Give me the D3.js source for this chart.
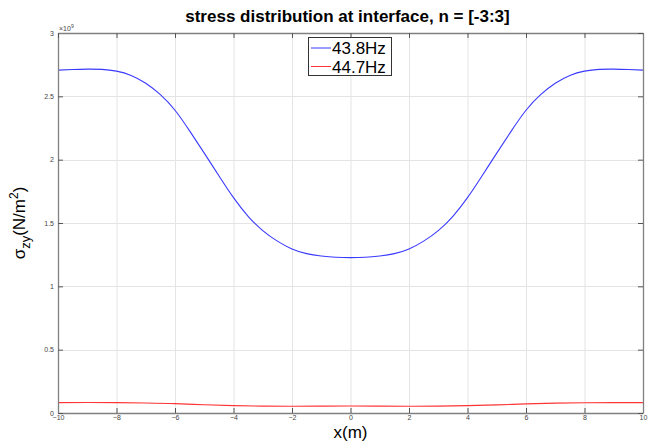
<!DOCTYPE html>
<html><head><meta charset="utf-8">
<script src="https://cdn.jsdelivr.net/npm/d3@7"></script>
<style>
html,body{margin:0;padding:0;background:#fff;}
text{font-family:"Liberation Sans",Arial,sans-serif;}
</style></head>
<body><svg id="c" width="656" height="442"></svg>
<script>
// x positions (m)
const xBlue = [-10,-9.5,-9,-8.5,-8,-7.5,-7,-6.5,-6,-5.5,-5,-4.5,-4,-3.5,-3,-2.5,-2,-1.5,-1,-0.5,0,
               0.5,1,1.5,2,2.5,3,3.5,4,4.5,5,5.5,6,6.5,7,7.5,8,8.5,9,9.5,10];
// 43.8Hz stress (x 1e9 N/m^2)
const blueVals = [2.707,2.712,2.715,2.713,2.699,2.665,2.603,2.513,2.390,2.227,2.052,1.873,1.700,1.553,1.440,1.357,1.295,1.258,1.240,1.230,1.227,
                  1.230,1.240,1.258,1.295,1.357,1.440,1.553,1.700,1.873,2.052,2.227,2.390,2.513,2.603,2.665,2.699,2.713,2.715,2.712,2.707];
const xRed = [-10,-9,-8,-7,-6,-5,-4,-3,-2,-1,0,1,2,3,4,5,6,7,8,9,10];
// 44.7Hz stress (x 1e9 N/m^2)
const redVals = [0.082,0.083,0.082,0.079,0.074,0.065,0.058,0.054,0.053,0.054,0.055,0.054,0.053,0.054,0.058,0.064,0.072,0.078,0.081,0.082,0.082];
const seriesNames = ["43.8Hz","44.7Hz"];
const seriesColors = ["#3a3aff","#ff3535"];
const xTicks = [-10,-8,-6,-4,-2,0,2,4,6,8,10];
const yTicks = [0,0.5,1,1.5,2,2.5,3];
const titleText = "stress distribution at interface, n = [-3:3]";

const svg = d3.select("#c");
const L=58, R=643, T=33, B=413;
const x = d3.scaleLinear().domain([-10,10]).range([L,R]);
const y = d3.scaleLinear().domain([0,3]).range([B,T]);

// grid
const g = svg.append("g");
g.selectAll(".vg").data(xTicks).enter().append("line")
  .attr("x1",d=>x(d)+0.5).attr("x2",d=>x(d)+0.5).attr("y1",T).attr("y2",B)
  .attr("stroke","#e4e4e4").attr("stroke-width",1);
g.selectAll(".hg").data(yTicks).enter().append("line")
  .attr("y1",d=>Math.round(y(d))+0.5).attr("y2",d=>Math.round(y(d))+0.5).attr("x1",L).attr("x2",R)
  .attr("stroke","#e4e4e4").attr("stroke-width",1);

// curves
const line = d3.line().curve(d3.curveNatural);
svg.append("path").datum(xBlue.map((v,i)=>[x(v),y(blueVals[i])]))
  .attr("d",line).attr("fill","none").attr("stroke",seriesColors[0]).attr("stroke-width",1.1);
svg.append("path").datum(xRed.map((v,i)=>[x(v),y(redVals[i])]))
  .attr("d",line).attr("fill","none").attr("stroke",seriesColors[1]).attr("stroke-width",1.1);

// axes box with inward ticks
const axCol="#808080";
const axB = d3.axisBottom(x).tickValues(xTicks).tickSizeInner(-5).tickSizeOuter(0).tickFormat(d3.format("d"));
const gb = svg.append("g").attr("transform",`translate(0,${B})`).call(axB);
const axL = d3.axisLeft(y).tickValues(yTicks).tickSizeInner(-5).tickSizeOuter(0).tickFormat(d=>d===0?"0":String(d));
const gl = svg.append("g").attr("transform",`translate(${L},0)`).call(axL);
const axT = d3.axisTop(x).tickValues(xTicks).tickSizeInner(-5).tickSizeOuter(0).tickFormat("");
const gt = svg.append("g").attr("transform",`translate(0,${T})`).call(axT);
const axR = d3.axisRight(y).tickValues(yTicks).tickSizeInner(-5).tickSizeOuter(0).tickFormat("");
const gr = svg.append("g").attr("transform",`translate(${R},0)`).call(axR);
[gb,gl,gt,gr].forEach(a=>{
  a.select(".domain").attr("stroke",axCol).attr("stroke-width",1.3);
  a.selectAll(".tick line").attr("stroke","#555").attr("stroke-width",1);
  a.selectAll(".tick text").attr("fill","#444").style("font-size","7px").style("font-family","Liberation Sans, Arial, sans-serif");
});
gb.selectAll(".tick text").attr("y",2).attr("dy","0.71em");
gl.selectAll(".tick text").attr("x",-4);

// exponent
const ex = svg.append("text").attr("x",L+1).attr("y",T-2).attr("fill","#444").style("font-size","7px");
ex.append("tspan").text("×10");
ex.append("tspan").attr("dy",-3).style("font-size","5px").text("9");

// title
svg.append("text").attr("x",(L+R)/2-3).attr("y",22).attr("text-anchor","middle")
  .style("font-size","17px").style("font-weight","bold").attr("fill","#000").text(titleText);

// x label
svg.append("text").attr("x",(L+R)/2).attr("y",438).attr("text-anchor","middle")
  .style("font-size","17px").attr("fill","#000").text("x(m)");

// y label
const yl = svg.append("text").attr("transform","translate(25,223) rotate(-90)").attr("text-anchor","middle")
  .style("font-size","17px").attr("fill","#000");
yl.append("tspan").text("σ");
yl.append("tspan").attr("dy",5).style("font-size","13px").text("zy");
yl.append("tspan").attr("dy",-5).text("(N/m");
yl.append("tspan").attr("dy",-7).style("font-size","12px").text("2");
yl.append("tspan").attr("dy",7).text(")");

// legend
const lg = svg.append("g");
lg.append("rect").attr("x",308.5).attr("y",37.5).attr("width",83).attr("height",38)
  .attr("fill","#fff").attr("stroke","#333").attr("stroke-width",1);
seriesNames.forEach((n,i)=>{
  const yy = 48 + i*18.5;
  lg.append("line").attr("x1",311).attr("x2",331).attr("y1",yy).attr("y2",yy)
    .attr("stroke",seriesColors[i]).attr("stroke-width",1);
  lg.append("text").attr("x",332).attr("y",yy+6).style("font-size","17px").attr("fill","#000").text(n);
});
</script></body></html>
